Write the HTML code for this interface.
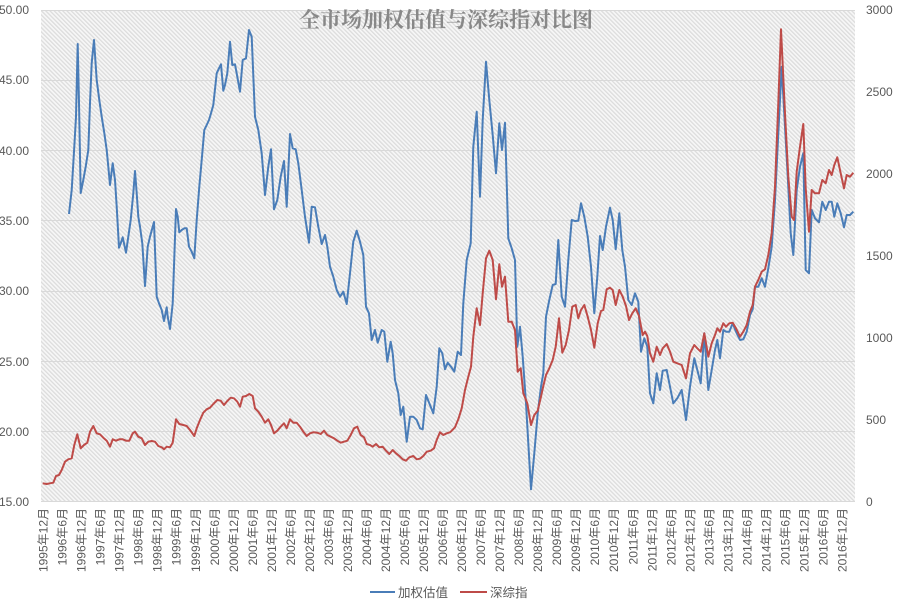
<!DOCTYPE html>
<html><head><meta charset="utf-8"><style>
html,body{margin:0;padding:0;background:#fff;}
svg{display:block;}
</style></head><body>
<svg width="900" height="602" viewBox="0 0 900 602" xmlns="http://www.w3.org/2000/svg" font-family="'Liberation Sans','Noto Sans CJK SC',sans-serif">
<defs>
<pattern id="h" width="3" height="3" patternUnits="userSpaceOnUse" patternTransform="rotate(-45)">
<rect width="3" height="3" fill="#f7f7f7"/><rect width="1.3" height="3" fill="#dcdcdc"/>
</pattern>
</defs>
<rect x="0" y="0" width="900" height="602" fill="#fff"/>
<rect x="41" y="10" width="814" height="492" fill="url(#h)"/>
<g stroke="#d9d9d9" stroke-width="1">
<line x1="41" y1="10.5" x2="855" y2="10.5"/>
<line x1="41" y1="80.5" x2="855" y2="80.5"/>
<line x1="41" y1="150.5" x2="855" y2="150.5"/>
<line x1="41" y1="220.5" x2="855" y2="220.5"/>
<line x1="41" y1="291.5" x2="855" y2="291.5"/>
<line x1="41" y1="361.5" x2="855" y2="361.5"/>
<line x1="41" y1="431.5" x2="855" y2="431.5"/>
<line x1="41" y1="501.5" x2="855" y2="501.5"/>
</g>
<text x="446" y="27" text-anchor="middle" font-family="'Liberation Serif','Noto Serif CJK SC',serif" font-weight="bold" font-size="21" fill="#888888">全市场加权估值与深综指对比图</text>
<g font-size="12" fill="#595959" text-anchor="end">
<text x="29" y="14">50.00</text>
<text x="29" y="84">45.00</text>
<text x="29" y="155">40.00</text>
<text x="29" y="225">35.00</text>
<text x="29" y="295">30.00</text>
<text x="29" y="366">25.00</text>
<text x="29" y="436">20.00</text>
<text x="29" y="506">15.00</text>
</g>
<g font-size="12" fill="#595959" text-anchor="start">
<text x="866" y="14">3000</text>
<text x="866" y="96">2500</text>
<text x="866" y="178">2000</text>
<text x="866" y="260">1500</text>
<text x="866" y="342">1000</text>
<text x="866" y="424">500</text>
<text x="866" y="506">0</text>
</g>
<g font-size="12" fill="#595959" text-anchor="end">
<text transform="translate(47.6,508) rotate(-90)">1995年12月</text>
<text transform="translate(66.6,508) rotate(-90)">1996年6月</text>
<text transform="translate(85.6,508) rotate(-90)">1996年12月</text>
<text transform="translate(104.6,508) rotate(-90)">1997年6月</text>
<text transform="translate(123.7,508) rotate(-90)">1997年12月</text>
<text transform="translate(142.7,508) rotate(-90)">1998年6月</text>
<text transform="translate(161.7,508) rotate(-90)">1998年12月</text>
<text transform="translate(180.7,508) rotate(-90)">1999年6月</text>
<text transform="translate(199.8,508) rotate(-90)">1999年12月</text>
<text transform="translate(218.8,508) rotate(-90)">2000年6月</text>
<text transform="translate(237.8,508) rotate(-90)">2000年12月</text>
<text transform="translate(256.8,508) rotate(-90)">2001年6月</text>
<text transform="translate(275.8,508) rotate(-90)">2001年12月</text>
<text transform="translate(294.9,508) rotate(-90)">2002年6月</text>
<text transform="translate(313.9,508) rotate(-90)">2002年12月</text>
<text transform="translate(332.9,508) rotate(-90)">2003年6月</text>
<text transform="translate(351.9,508) rotate(-90)">2003年12月</text>
<text transform="translate(371.0,508) rotate(-90)">2004年6月</text>
<text transform="translate(390.0,508) rotate(-90)">2004年12月</text>
<text transform="translate(409.0,508) rotate(-90)">2005年6月</text>
<text transform="translate(428.0,508) rotate(-90)">2005年12月</text>
<text transform="translate(447.0,508) rotate(-90)">2006年6月</text>
<text transform="translate(466.1,508) rotate(-90)">2006年12月</text>
<text transform="translate(485.1,508) rotate(-90)">2007年6月</text>
<text transform="translate(504.1,508) rotate(-90)">2007年12月</text>
<text transform="translate(523.1,508) rotate(-90)">2008年6月</text>
<text transform="translate(542.2,508) rotate(-90)">2008年12月</text>
<text transform="translate(561.2,508) rotate(-90)">2009年6月</text>
<text transform="translate(580.2,508) rotate(-90)">2009年12月</text>
<text transform="translate(599.2,508) rotate(-90)">2010年6月</text>
<text transform="translate(618.2,508) rotate(-90)">2010年12月</text>
<text transform="translate(637.3,508) rotate(-90)">2011年6月</text>
<text transform="translate(656.3,508) rotate(-90)">2011年12月</text>
<text transform="translate(675.3,508) rotate(-90)">2012年6月</text>
<text transform="translate(694.3,508) rotate(-90)">2012年12月</text>
<text transform="translate(713.4,508) rotate(-90)">2013年6月</text>
<text transform="translate(732.4,508) rotate(-90)">2013年12月</text>
<text transform="translate(751.4,508) rotate(-90)">2014年6月</text>
<text transform="translate(770.4,508) rotate(-90)">2014年12月</text>
<text transform="translate(789.4,508) rotate(-90)">2015年6月</text>
<text transform="translate(808.5,508) rotate(-90)">2015年12月</text>
<text transform="translate(827.5,508) rotate(-90)">2016年6月</text>
<text transform="translate(846.5,508) rotate(-90)">2016年12月</text>
</g>
<polyline fill="none" stroke="#4a7db8" stroke-width="2" stroke-linejoin="round" points="69,214 71.7,190 74.3,146.7 76,116.7 77.7,44 79,103 80.7,193 83.3,180 85.7,166.7 88.3,150 90,103 91.7,63 94,40 96.7,80 99.3,100 101.7,116.7 104.3,133 106.7,150 108.3,166.7 110,185 112.7,163.3 115,180 116.7,206.7 119,247.7 120.7,243.3 122.7,237.3 124,243.3 126,252.7 128.3,236.7 130.7,220 133.3,193.3 135,171 136.7,193.3 138.3,216.7 140,226.7 142.3,243.3 145,286 147.7,246.7 150,236.7 152.3,228.3 154,222 156.7,296.7 159,303.3 161.7,310 164,321 166.7,307.3 167.7,316.7 170,329 172.7,303.3 176,209 177.7,216.7 179.3,232.3 181.7,230 184.3,228.3 186.7,228.3 189,246.7 191.7,251.7 194.3,258.3 196.7,220 199.3,186.7 201.7,160 204.3,130 206.7,125 209,120 211,113.3 213.3,105 216.7,73.3 219,68.3 221,64.3 223.3,90.7 225,85 227.3,73.3 230,41.7 232.3,65 235,64.3 237.3,76.7 240,91.7 242.7,60 246,58.3 249,30 251.7,36.7 255,116.7 258.3,130 261.7,153.3 265,195 268.3,166.7 271,149.3 274,209.3 277.3,200 280.7,176.7 284,161 286.7,206.7 290,134 292.7,148.3 295.7,149.3 298.3,163.3 301.7,190 305,216.7 309,242.7 311.7,206.7 315,207.3 318.3,226.7 321.7,244 325,235 327.3,246.7 330,266.7 333.3,276.7 336.7,290 340,296.7 343.3,291.7 346.7,304 350,273.3 353.3,241.7 356.7,230.7 360,241.7 363.3,255 366,306.7 369,313.3 371.7,340 375,330 377.7,342.7 381.7,330 384.3,331.7 387.3,361.7 390.7,341.7 392.7,353.3 395,380 398.3,393.3 400.7,415 403.3,406.7 406.7,441.7 410,416.7 413.3,416.7 416.7,420 420,428.3 422.7,429.3 426,395 429.3,403.3 433.3,413.3 436.7,386.7 439.3,348.3 442.3,353.3 445,369.3 447.7,362.7 451,366.7 454.3,371.7 457.7,351.7 461,355 463.3,303.3 466.7,260 470.7,243.3 473.3,146.7 476.7,111.7 480,196.7 482.7,120 486,61.7 489.3,100 492.7,135 496,173.3 499.3,123.3 502,150 505,122.7 508.3,238.3 511.7,248.3 515,260 517.3,346.7 520,326.7 522.7,356.7 526,403.3 528.3,443.3 531,489.3 534.3,453.3 537.7,413.3 541,386.7 543.3,373.3 546,316.7 549.3,300 552.7,285 555.7,284 558.3,240 561.7,296.7 565,306.7 568.3,260 571.7,220 575,221 578.3,220.7 581,203.3 584.3,216.7 587.7,236.7 591,266.7 594.3,313.3 597.3,276.7 600,236 602.7,250 606,226.7 610,207.7 612.7,220 615.7,249.3 619.3,213.3 622.3,250 625,266.7 628.3,300 631.7,305 635,293.3 638.3,301.7 641,351.7 644.3,338.3 647.3,346.7 650,393.3 653.3,403.3 656.7,373.3 660,390 662.7,370.7 666.7,370 670,386.7 673.3,403.3 677.3,398.3 681.7,390 686,420 690,386.7 694.3,358.3 697.3,370 700.7,383.3 704.3,333.3 708.3,390 711.7,370 715,350 717.3,340 720,358.3 723.3,330 726,331.7 729.3,331.7 732.7,323.3 736,331.7 740,340 743.3,339.3 746.7,331.7 750,315 752.7,309.3 755,286.7 758.3,286.7 761.7,278.3 765,286.7 768.3,268.3 771.7,246.7 775,200 778.3,133.3 781.7,66.7 785,126.7 788.3,186.7 790.7,233.3 793.3,255 796.7,190 800,166.7 803.3,153.3 805.7,270 809,273.3 811.7,210 815,218.3 819,222.3 822.3,201.7 825.7,210 829,201.7 831.7,201.7 834.3,216.7 837.3,203.3 840.7,213.3 844,227.3 846.7,215 850,215 853.3,211.7"/>
<polyline fill="none" stroke="#be4b48" stroke-width="2" stroke-linejoin="round" points="42.7,483.3 46.7,484 50,483.3 53.3,482.7 56,476 59,475 61.7,470 65,461.7 68.3,459.3 71.7,458.3 74.3,445 77.3,434.3 80.7,448.3 84,445 87.3,442.7 90,431.7 93.3,426 96.7,433.3 100,434.3 103.3,437.7 106.7,440.7 110,446.7 112.7,439.3 116,440.7 119.3,439.3 122.7,439.3 126,440.7 129.3,440.7 132.7,433.3 135,431.7 138.3,436.7 141.7,438.3 145,445 148.3,441.7 151.7,441 155,441.7 158.3,446 161.7,447.3 164,449.3 166.7,446.7 170,447.3 172.7,442.7 176,419.3 179.3,424 183.3,425 186.7,426 190,430 194.3,436 196.7,428.3 200,420 203.3,412.7 206.7,409.3 210,407.7 213.3,404 217.3,400 220.7,400.7 224,405 227.3,401 230.7,397.7 234,398.3 237.3,401.7 240,406.7 242.7,396.7 246,396 249.3,394 252.7,396 255,408.3 258.3,411.7 261.7,416.7 265,422.7 268.3,419.3 271,425 274,433.3 277.3,430.7 280.7,426.7 284,423.3 286.7,428.3 290,419.3 293.3,422.7 296.7,422.7 300,426.7 303.3,431.7 306.7,436 310,433.3 313.3,432.3 317.3,432.7 320.7,434 324,430.7 327.3,435 330.7,436.7 334,438.3 337.3,440.7 340.7,442.7 344,441.7 347.3,440.7 350.7,435 354,428.3 357.3,426.7 360.7,435 364,437.3 366.7,444 370,445 372.7,446.7 376,444 379.3,447.3 382.7,446.7 386,450.7 389.3,454 392.7,450 396,453.3 399.3,456 402.7,459.3 406,460.7 409.3,457.3 413.3,456 416.7,459.3 420,458.7 423.3,456 426.7,451.7 430.7,450.7 434,448.3 436.7,440 440,432.3 443.3,435 446.7,433.3 450,432.3 451.7,430.7 455,427.3 458.3,419.3 461.7,408.3 465,390 468.3,376.7 471,366.7 473.3,336.7 476.7,308.3 480,325 482.7,293.3 486,258.3 489.3,250.7 492.7,260 496,299.3 499.3,264.3 502,286.7 505,276.7 508.3,321.7 511.7,321.7 515,330 517.7,371.7 520.7,368.3 523.3,393.3 527.3,403.3 531,425 534.3,415 537.7,410.7 541,396.7 543.3,386 546,375 549.3,368.3 552.7,360 555.7,346.7 559,318.3 562.3,352.7 565.7,345 569,330 572.3,306.7 575.7,305 578.3,318.3 581,310 584.3,305 587.7,316.7 591,330 594.3,347.7 597.7,323.3 601,311 603.3,310 606.7,289.3 610,287.7 612.7,290 615.7,305 619.3,290 622.7,296.7 626,306 629,320 632.3,313.3 635.7,308.3 639,316 642.7,335 645,331.7 647.3,336 650,353.3 653.3,361.7 656.7,346.7 660,355 662.7,348.3 666.7,344 670,351.7 673.3,361.7 677.3,363.3 681.7,365 686,378.3 690,353.3 694.3,345 697.3,348.3 700.7,351.7 704.3,333.3 708.3,356.7 711.7,343.3 715,335 717.3,328.3 720,331.7 723.3,323.3 726,326.7 729.3,323.3 732.7,322.7 736,328.3 740,336.7 743.3,331.7 746.7,325 750,311.7 752.7,305 755,286.7 758.3,280 761.7,271.7 765,269.3 768.3,255 771.7,233.3 775,186.7 778.3,103.3 781,29.3 785,113.3 788.3,176.7 791.7,216.7 794,220 796.7,171.7 800,146.7 803.3,124 805.7,188.3 809,231.7 811.7,190 815,193.3 819,193.3 822.3,180 825.7,183.3 829,170 831.7,175 834.3,165 837.3,157.3 840.7,173.3 844,188.3 846.7,175 850,176.7 853.3,172.7"/>
<line x1="370" y1="592" x2="395" y2="592" stroke="#4a7db8" stroke-width="2"/>
<text x="398" y="597" font-size="12.5" fill="#595959">加权估值</text>
<line x1="460" y1="592" x2="487" y2="592" stroke="#be4b48" stroke-width="2"/>
<text x="490" y="597" font-size="12.5" fill="#595959">深综指</text>
</svg>
</body></html>
